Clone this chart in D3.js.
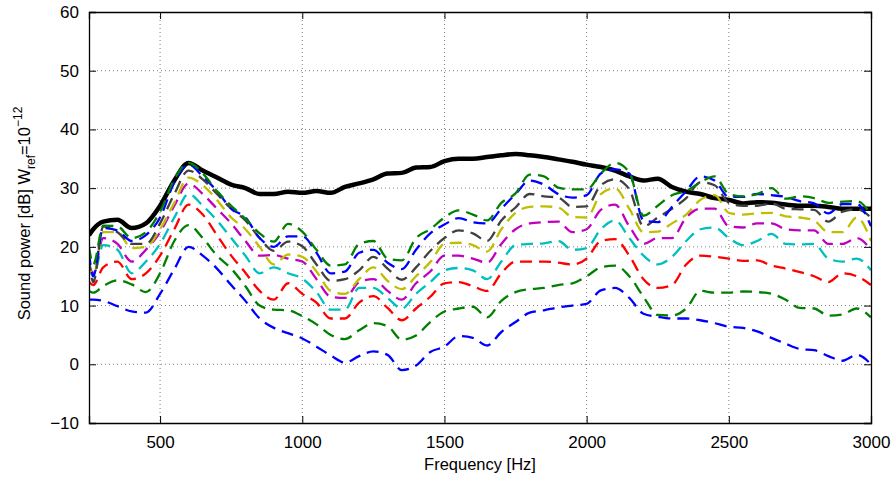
<!DOCTYPE html>
<html>
<head>
<meta charset="utf-8">
<script src="https://cdn.jsdelivr.net/npm/d3@7"></script>
<style>
  html, body { margin: 0; padding: 0; background: #fff; }
  svg text { font-family: "Liberation Sans", Arial, Helvetica, sans-serif; fill: #000; }
</style>
</head>
<body>
<svg id="chart" width="896" height="479"></svg>
<script>
// ---------------- data ----------------
const freqs = [250, 265, 300, 350, 400, 450, 500, 550, 600, 650, 700, 750, 800, 850, 900, 950,
  1000, 1050, 1100, 1150, 1200, 1250, 1300, 1350, 1400, 1450, 1500, 1550, 1600, 1650, 1700,
  1750, 1800, 1850, 1900, 1950, 2000, 2050, 2100, 2150, 2200, 2250, 2300, 2350, 2400, 2450,
  2500, 2550, 2600, 2650, 2700, 2750, 2800, 2850, 2900, 2950, 3000];

const totalPower = [22.0, 23.0, 24.3, 24.6, 23.2, 24.0, 27.0, 31.3, 34.3, 33.0, 31.8, 30.6, 30.0, 29.0, 29.0, 29.4,
  29.2, 29.5, 29.2, 30.2, 30.8, 31.5, 32.5, 32.6, 33.5, 33.6, 34.6, 35.0, 35.0, 35.3, 35.6,
  35.8, 35.6, 35.3, 34.9, 34.5, 34.0, 33.6, 33.0, 32.0, 31.3, 31.6, 30.2, 29.4, 29.0, 28.3,
  28.0, 27.4, 27.6, 27.5, 27.2, 27.0, 27.0, 26.8, 26.5, 26.5, 26.5];

const blue1 = [11.0, 11.0, 10.8, 9.9, 9.0, 8.8, 12.0, 16.2, 20.0, 18.5, 16.3, 13.5, 10.8, 7.8, 6.2, 5.3,
  4.4, 3.0, 1.5, 0.3, 1.4, 2.2, 1.6, -1.0, -0.2, 2.1, 3.0, 4.8, 4.5, 3.2, 5.5,
  7.2, 8.8, 9.2, 9.7, 10.0, 10.3, 12.6, 13.0, 11.3, 8.6, 8.1, 7.8, 7.8, 7.5, 7.0,
  6.4, 6.2, 5.6, 4.5, 3.5, 2.6, 2.4, 1.4, 0.6, 1.6, 0.0];

const green1 = [12.5, 12.2, 13.3, 14.3, 13.6, 12.3, 15.5, 21.0, 23.7, 21.5, 18.5, 16.3, 13.3, 10.0, 9.3, 9.2,
  8.2, 6.8, 5.0, 4.3, 5.8, 7.0, 6.5, 4.2, 4.9, 7.2, 9.0, 9.5, 9.8, 8.0, 10.8,
  12.3, 12.8, 13.0, 13.5, 13.8, 15.0, 16.5, 16.8, 15.0, 11.5, 8.4, 8.3, 9.5, 12.5, 12.2,
  12.2, 12.4, 12.3, 12.0, 11.0, 9.6, 9.5, 8.3, 8.5, 9.5, 8.0];

const red = [14.0, 13.5, 16.5, 17.5, 14.5, 15.5, 18.5, 23.0, 27.2, 25.5, 22.0, 18.5, 15.6, 12.5, 11.0, 13.8,
  12.0, 10.5, 7.8, 7.8, 10.5, 11.6, 9.6, 7.5, 9.5, 11.5, 13.8, 14.0, 13.3, 12.5, 15.5,
  17.5, 17.5, 17.5, 17.3, 17.0, 18.0, 21.0, 21.3, 18.5, 14.5, 13.0, 13.5, 17.0, 18.5, 18.3,
  18.0, 17.6, 17.7, 16.8, 16.3, 15.7, 15.0, 14.0, 15.5, 15.0, 13.5];

const cyan = [16.5, 15.0, 20.3, 19.5, 15.5, 17.5, 20.5, 25.0, 29.0, 27.0, 24.5, 21.5, 18.5, 15.5, 16.5, 15.5,
  14.6, 12.3, 9.3, 9.3, 13.0, 13.0, 11.3, 9.5, 12.0, 14.0, 16.0, 16.4, 16.0, 14.5, 17.5,
  20.3, 20.5, 20.6, 21.0, 19.5, 19.8, 23.0, 24.5, 21.5, 18.5, 17.0, 18.3, 21.0, 23.0, 23.3,
  21.5, 20.3, 21.0, 22.2, 20.5, 20.4, 20.5, 18.0, 17.5, 18.0, 16.0];

const magenta = [17.0, 15.5, 21.5, 20.5, 17.5, 19.5, 22.5, 27.0, 30.8, 29.0, 26.5, 24.0, 21.0, 18.5, 18.6, 18.0,
  17.5, 14.5, 11.5, 11.3, 14.0, 14.5, 12.5, 11.0, 13.8, 15.8, 18.5, 18.5, 18.0, 17.3, 20.5,
  23.0, 24.0, 24.2, 24.3, 22.5, 23.0, 26.3, 27.2, 23.5, 20.5, 21.5, 21.5, 25.0, 26.5, 26.5,
  23.5, 23.3, 24.0, 24.0, 23.0, 22.8, 22.8, 20.5, 20.5, 21.5, 19.5];

const yellow = [17.0, 15.0, 22.5, 22.5, 19.8, 20.0, 23.0, 27.5, 31.8, 30.5, 28.0, 25.0, 23.0, 20.0, 17.0, 18.7,
  18.3, 15.8, 12.5, 12.0, 14.5, 16.5, 14.2, 12.8, 15.0, 17.4, 20.5, 20.7, 20.3, 19.2, 23.0,
  25.8, 26.8, 26.9, 26.7, 25.1, 25.0, 29.0, 30.0, 26.5, 22.5, 22.6, 24.0, 25.5, 28.0, 28.8,
  25.8, 25.5, 25.7, 25.8, 25.2, 25.0, 24.5, 22.5, 22.5, 25.0, 21.0];

const gray = [18.0, 14.0, 23.5, 22.5, 20.5, 20.5, 24.0, 29.0, 33.0, 31.5, 29.0, 26.5, 24.5, 21.5, 19.3, 20.9,
  20.1, 17.0, 14.2, 14.5, 16.0, 18.3, 16.3, 14.4, 16.5, 19.3, 21.5, 22.8, 22.3, 21.0, 24.5,
  26.7, 29.0, 28.6, 28.4, 26.8, 26.9, 30.5, 31.5, 29.8, 23.5, 25.0, 26.5, 28.3, 31.0, 30.5,
  27.5, 27.0, 27.0, 27.4, 26.5, 26.4, 26.3, 24.3, 26.0, 26.4, 25.0];

const blue2 = [19.0, 15.0, 23.2, 22.8, 21.0, 22.0, 25.0, 31.0, 34.0, 32.0, 29.5, 26.5, 25.0, 21.5, 20.0, 21.8,
  21.8, 19.0, 15.5, 15.8, 19.0, 19.5, 17.3, 16.2, 19.5, 22.3, 23.8, 24.9, 24.2, 24.0, 26.5,
  29.0, 31.3, 30.6, 29.0, 28.4, 28.8, 32.5, 33.2, 32.5, 24.5, 24.2, 26.8, 29.5, 32.0, 31.3,
  28.5, 28.5, 29.0, 28.8, 28.5, 27.8, 27.4, 25.7, 27.3, 27.3, 23.5];

const green2 = [20.0, 17.0, 23.6, 23.5, 21.5, 22.5, 26.0, 31.5, 34.3, 32.5, 29.5, 27.0, 24.8, 22.3, 20.9, 23.9,
  22.6, 19.5, 16.8, 17.0, 20.5, 21.0, 18.0, 17.7, 21.5, 23.0, 25.0, 26.2, 25.5, 24.5, 27.5,
  29.1, 32.3, 32.0, 30.1, 29.8, 29.8, 32.5, 34.3, 32.7, 25.3, 27.0, 28.8, 29.5, 31.0, 32.0,
  29.0, 28.6, 29.0, 30.0, 28.2, 28.6, 28.3, 27.5, 27.7, 27.8, 25.5];

const xTicks = [500, 1000, 1500, 2000, 2500, 3000];
const yTicks = [-10, 0, 10, 20, 30, 40, 50, 60];

const dashedSeries = [
  { name: "blue1", values: blue1, color: "#0000ff" },
  { name: "green1", values: green1, color: "#008000" },
  { name: "red", values: red, color: "#ff0000" },
  { name: "cyan", values: cyan, color: "#00bfbf" },
  { name: "magenta", values: magenta, color: "#bf00bf" },
  { name: "yellow", values: yellow, color: "#bfbf00" },
  { name: "gray", values: gray, color: "#404040" },
  { name: "blue2", values: blue2, color: "#0000ff" },
  { name: "green2", values: green2, color: "#008000" }
];

// ---------------- layout ----------------
const svg = d3.select("#chart");
const L = 89, R = 871, T = 12, B = 423;

const x = d3.scaleLinear().domain([250, 3000]).range([L, R]);
const y = d3.scaleLinear().domain([-10, 60]).range([B, T]);

svg.append("defs").append("clipPath").attr("id", "plotclip")
  .append("rect").attr("x", L).attr("y", T).attr("width", R - L).attr("height", B - T);

// grid (dotted)
const grid = svg.append("g");
grid.selectAll("line.gx").data(xTicks.filter(d => d < 3000)).join("line")
  .attr("x1", d => x(d)).attr("x2", d => x(d)).attr("y1", T).attr("y2", B)
  .attr("stroke", "#7f7f7f").attr("stroke-width", 1).attr("stroke-dasharray", "1,3");
grid.selectAll("line.gy").data(yTicks.filter(d => d > -10 && d < 60)).join("line")
  .attr("x1", L).attr("x2", R).attr("y1", d => y(d)).attr("y2", d => y(d))
  .attr("stroke", "#7f7f7f").attr("stroke-width", 1).attr("stroke-dasharray", "1,3");

// lines
const line = d3.line()
  .x((d, i) => x(freqs[i]))
  .y(d => y(d))
  .curve(d3.curveMonotoneX);

const plot = svg.append("g").attr("clip-path", "url(#plotclip)");

plot.append("path")
  .attr("d", line(totalPower))
  .attr("fill", "none").attr("stroke", "#000").attr("stroke-width", 4.5)
  .attr("stroke-linejoin", "round");

plot.selectAll("path.dash").data(dashedSeries).join("path")
  .attr("class", "dash")
  .attr("d", d => line(d.values))
  .attr("fill", "none")
  .attr("stroke", d => d.color)
  .attr("stroke-width", 2.3)
  .attr("stroke-dasharray", "12,7")
  .attr("stroke-linejoin", "round");

// axes
const fmt = d => d < 0 ? "\u2212" + Math.abs(d) : String(d);
const axB = svg.append("g").attr("transform", `translate(0,${B})`)
  .call(d3.axisBottom(x).tickValues(xTicks).tickSize(-7).tickPadding(13).tickFormat(fmt));
const axT = svg.append("g").attr("transform", `translate(0,${T})`)
  .call(d3.axisTop(x).tickValues(xTicks).tickSize(-7).tickFormat(""));
const axL = svg.append("g").attr("transform", `translate(${L},0)`)
  .call(d3.axisLeft(y).tickValues(yTicks).tickSize(-7).tickPadding(10).tickFormat(fmt));
const axR = svg.append("g").attr("transform", `translate(${R},0)`)
  .call(d3.axisRight(y).tickValues(yTicks).tickSize(-7).tickFormat(""));

[axB, axT, axL, axR].forEach(a => {
  a.select(".domain").attr("stroke", "#000").attr("stroke-width", 1.3);
  a.selectAll(".tick line").attr("stroke", "#000").attr("stroke-width", 1);
  a.selectAll("text").attr("font-size", 17).attr("font-family", '"Liberation Sans", Arial, sans-serif').attr("fill", "#000");
});

// axis labels
svg.append("text")
  .attr("x", (L + R) / 2).attr("y", 470)
  .attr("text-anchor", "middle").attr("font-size", 16.5)
  .text("Frequency [Hz]");

const yl = svg.append("text")
  .attr("transform", `translate(30,${(T + B) / 2 - 4}) rotate(-90)`)
  .attr("text-anchor", "middle").attr("font-size", 16.5);
yl.append("tspan").text("Sound power [dB] W");
yl.append("tspan").attr("font-size", 12).attr("dy", 5).text("ref");
yl.append("tspan").attr("dy", -5).text("=10");
yl.append("tspan").attr("font-size", 12).attr("dy", -8).text("\u221212");
</script>
</body>
</html>
